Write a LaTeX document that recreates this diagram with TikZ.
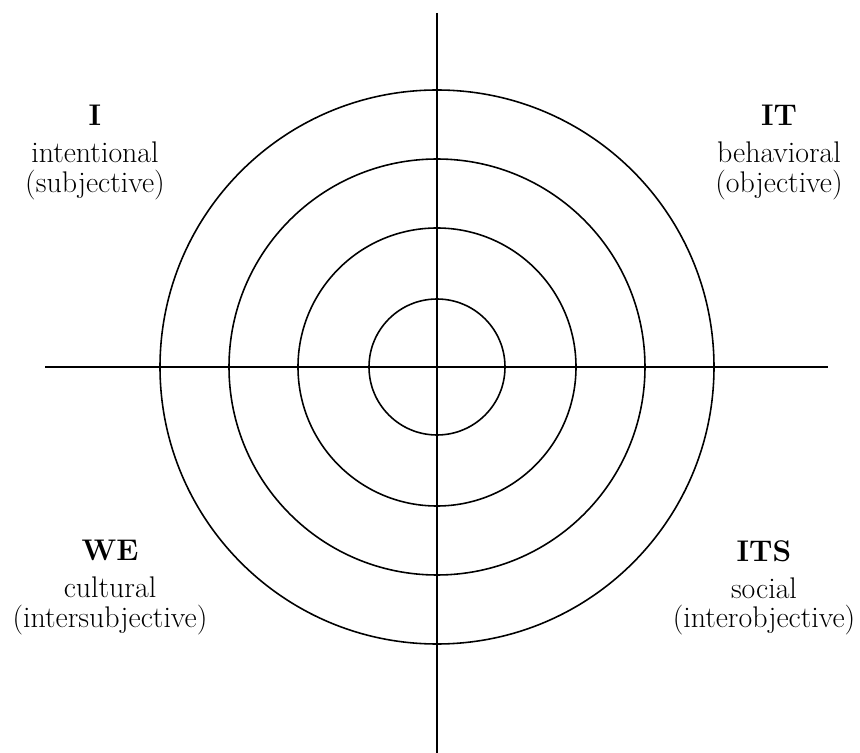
\documentclass[tikz,border=0pt]{standalone}
\usetikzlibrary{positioning}
\begin{document}
\begin{tikzpicture}[x=0.02cm,y=-0.02cm,
  ring/.style={line width=0.9pt},
  axis/.style={line width=0.9pt},
  quad/.style={align=center,inner sep=0pt,anchor=north,
    font=\fontsize{17}{17}\selectfont}]
\useasboundingbox (0,0) rectangle (860,753);
% axes
\coordinate (c) at (437,367);
\coordinate (top) at (437,13);
\coordinate (bot) at (437,753);
\coordinate (left) at (45,367);
\coordinate (right) at (828,367);
\draw[axis] (left) -- (right);
\draw[axis] (top) -- (bot);
% rings
\foreach \r in {68,139,208,277}
  \draw[ring] (c) circle[radius=\r];
% quadrants
\node[quad] (upleft) at (95,105) {\textbf{I}\\[4pt]intentional\\(subjective)};
\node[quad] (upright) at (779,105) {\textbf{IT}\\[4pt]behavioral\\(objective)};
\node[quad] (lowleft) at (110,540) {\textbf{WE}\\[4pt]cultural\\(intersubjective)};
\node[quad] (lowright) at (764,540) {\textbf{ITS}\\[4pt]social\\(interobjective)};
\end{tikzpicture}
\end{document}
